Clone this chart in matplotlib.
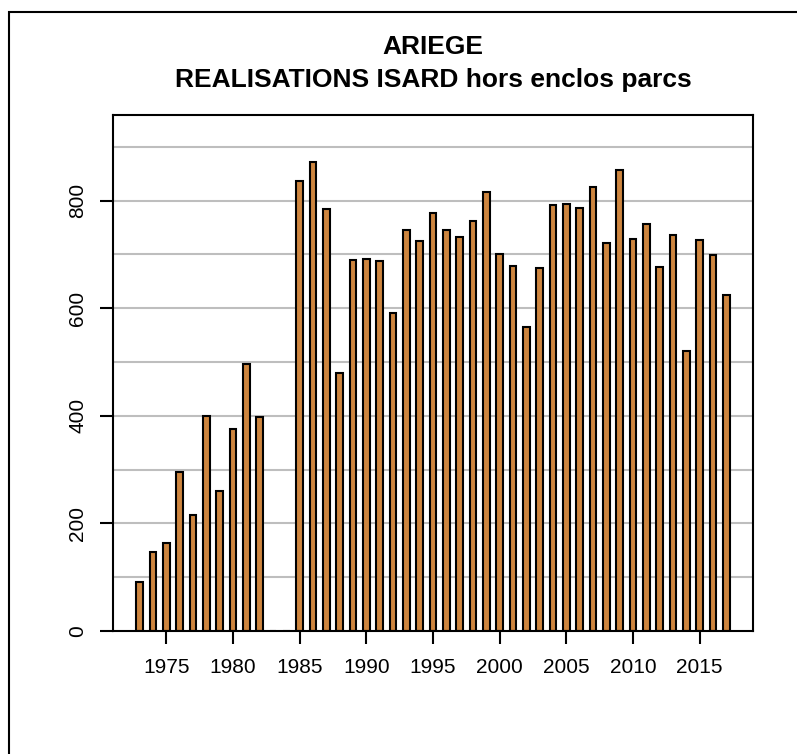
import matplotlib
matplotlib.use("Agg")
import matplotlib.pyplot as plt
from matplotlib.patches import Rectangle
import numpy as np

# Annual isard (chamois) harvest, Ariege, outside enclosures / parks
years = list(range(1973, 2018))
values = [92, 146, 163, 295, 216, 399, 260, 376, 496, 397,
          0, 0,
          836, 872, 784, 480, 689, 691, 688, 591, 745, 725,
          777, 745, 733, 762, 816, 701, 679, 566, 674, 792,
          794, 787, 825, 721, 857, 728, 757, 676, 737, 520,
          726, 699, 625]
year_ticks = [1975, 1980, 1985, 1990, 1995, 2000, 2005, 2010, 2015]
value_ticks = [0, 200, 400, 600, 800]

title_1 = "ARIEGE"
title_2 = "REALISATIONS ISARD hors enclos parcs"

plt.rcParams['font.family'] = ['Liberation Sans', 'DejaVu Sans']

W, H = 797, 754
fig = plt.figure(figsize=(W / 100, H / 100), dpi=100)
ax = fig.add_axes([113 / W, 1 - 631 / H, (753 - 113) / W, (631 - 115) / H])

# light grey horizontal guides every 100
for g in np.arange(100, 1000, 100):
    ax.axhline(g, color='#BEBEBE', linewidth=1.5, zorder=0)

ax.bar(years, values, width=0.48, color='#CD853F', edgecolor='black',
       linewidth=1.5, zorder=2)

ax.set_xlim(1971, 2019)
ax.set_ylim(0, 1.1 * max(values))

ax.set_xticks(year_ticks)
ax.set_yticks(value_ticks)
ax.tick_params(axis='both', length=9.5, width=1.5, labelsize=15, color='black')
ax.tick_params(axis='x', pad=10)
ax.tick_params(axis='y', pad=9)
for lab in ax.get_yticklabels():
    lab.set_rotation(90)
    lab.set_va('center')

for s in ax.spines.values():
    s.set_linewidth(1.5)

cx = (113 + 753) / 2 / W
fig.text(cx, 1 - 47 / H, title_1, ha='center', va='center',
         fontsize=19, fontweight='bold')
fig.text(cx, 1 - 80 / H, title_2, ha='center', va='center',
         fontsize=19, fontweight='bold')

# outer figure frame (cut off at right/bottom like the original)
fig.patches.append(Rectangle((9 / W, -0.1), 1.5, 1 - 12 / H + 0.1,
                             transform=fig.transFigure, fill=False,
                             edgecolor='black', linewidth=1.5))

fig.savefig("out.png", dpi=100)
